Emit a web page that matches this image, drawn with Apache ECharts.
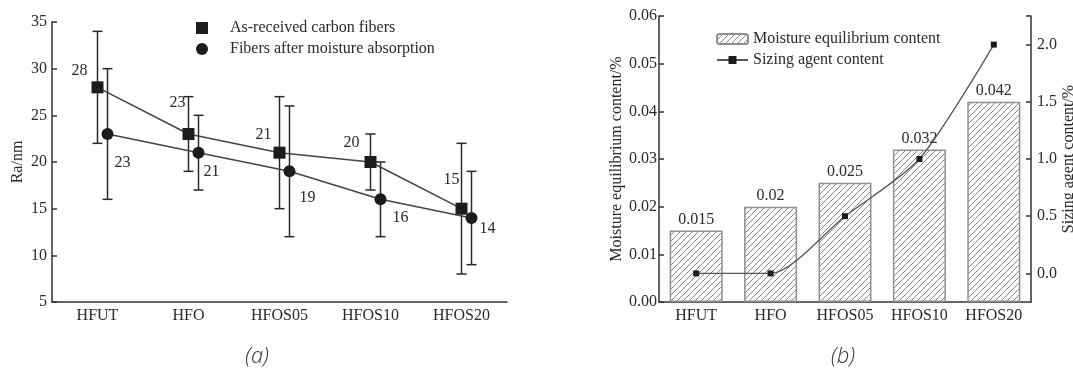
<!DOCTYPE html>
<html>
<head>
<meta charset="utf-8">
<script src="https://cdn.jsdelivr.net/npm/echarts@6/dist/echarts.min.js"></script>
<style>
html,body{margin:0;padding:0;background:#fff;}
#main{width:1073px;height:373px;}
</style>
</head>
<body>
<div id="main"></div>
<script>
// ---- data ----
const categories = ['HFUT', 'HFO', 'HFOS05', 'HFOS10', 'HFOS20'];
// (a) surface roughness Ra/nm
const raAsReceived = [28, 23, 21, 20, 15];
const raAsReceivedLow = [22, 19, 15, 17, 8];
const raAsReceivedHigh = [34, 27, 27, 23, 22];
const raMoist = [23, 21, 19, 16, 14];
const raMoistLow = [16, 17, 12, 12, 9];
const raMoistHigh = [30, 25, 26, 20, 19];
// (b)
const moistureContent = [0.015, 0.02, 0.025, 0.032, 0.042];
const sizingContent = [0.0, 0.0, 0.5, 1.0, 2.0];
const sizingTicks = [0, 0.5, 1.0, 1.5, 2.0];

const nameA1 = 'As-received carbon fibers';
const nameA2 = 'Fibers after moisture absorption';
const nameB1 = 'Moisture equilibrium content';
const nameB2 = 'Sizing agent content';

// ---- styling ----
const SERIF = '"Liberation Serif", "Times New Roman", serif';
const TXT = '#2a2a2a';
const AX = '#333';
const sqLabelOffset = [[-18, -17], [-11, -31], [-16, -18], [-19, -19], [-10, -29]];
const ciLabelOffset = [[15, 29], [13, 19], [18, 26], [20, 18], [16, 11]];

// hatch pattern
const pc = document.createElement('canvas');
pc.width = 6; pc.height = 6;
const g = pc.getContext('2d');
g.fillStyle = '#fff'; g.fillRect(0, 0, 6, 6);
g.strokeStyle = '#8a8a8a'; g.lineWidth = 1;
g.beginPath();
g.moveTo(0, 6); g.lineTo(6, 0);
g.moveTo(-1, 1); g.lineTo(1, -1);
g.moveTo(5, 7); g.lineTo(7, 5);
g.stroke();

function errRender(params, api) {
  const i = api.value(0);
  const lo = api.coord([i, api.value(1)]);
  const hi = api.coord([i, api.value(2)]);
  const cw = 5;
  const st = { stroke: '#2a2a2a', lineWidth: 1.5 };
  return {
    type: 'group',
    children: [
      { type: 'line', shape: { x1: lo[0], y1: lo[1], x2: hi[0], y2: hi[1] }, style: st },
      { type: 'line', shape: { x1: lo[0] - cw, y1: lo[1], x2: lo[0] + cw, y2: lo[1] }, style: st },
      { type: 'line', shape: { x1: hi[0] - cw, y1: hi[1], x2: hi[0] + cw, y2: hi[1] }, style: st }
    ]
  };
}

const axisLabelStyle = { fontFamily: SERIF, fontSize: 16, color: TXT };

function labeled(vals, offs) {
  return vals.map((v, i) => ({ value: v, label: { offset: offs[i] } }));
}

const gridA = { left: 52, right: 1073 - 507, top: 22, bottom: 71, outerBoundsMode: 'none', containLabel: false };
const gridA2 = { left: 62, right: 1073 - 517, top: 22, bottom: 71, outerBoundsMode: 'none', containLabel: false };
const gridB = { left: 659, right: 1073 - 1031, top: 16, bottom: 71, outerBoundsMode: 'none', containLabel: false };

const option = {
  animation: false,
  backgroundColor: '#fff',
  grid: [gridA, gridA2, gridB],
  legend: [
    {
      orient: 'vertical', left: 191, top: 15, itemGap: 5,
      itemWidth: 12, itemHeight: 12,
      textStyle: { fontFamily: SERIF, fontSize: 16, color: TXT, padding: [0, 0, 0, 17] },
      data: [{ name: nameA1, icon: 'rect' }, { name: nameA2, icon: 'circle' }]
    },
    {
      orient: 'vertical', left: 711, top: 26, itemGap: 5,
      itemWidth: 31, itemHeight: 10,
      textStyle: { fontFamily: SERIF, fontSize: 16, color: TXT },
      data: [nameB1, nameB2]
    }
  ],
  xAxis: [
    {
      type: 'category', gridIndex: 0, data: categories,
      axisLine: { lineStyle: { color: AX, width: 1.5 } },
      axisTick: { inside: true, alignWithLabel: true, length: 8, lineStyle: { color: AX, width: 1.5 } },
      axisLabel: Object.assign({ margin: 6, interval: 0 }, axisLabelStyle)
    },
    {
      type: 'category', gridIndex: 1, data: categories, show: false
    },
    {
      type: 'category', gridIndex: 2, data: categories,
      axisLine: { lineStyle: { color: AX, width: 1.5 } },
      axisTick: { show: false },
      axisLabel: Object.assign({ margin: 6, interval: 0, hideOverlap: false }, axisLabelStyle)
    }
  ],
  yAxis: [
    {
      type: 'value', gridIndex: 0, min: 5, max: 35, interval: 5,
      name: 'Ra/nm', nameLocation: 'middle', nameGap: 26, nameRotate: 90,
      nameTextStyle: { fontFamily: SERIF, fontSize: 16, color: TXT },
      splitLine: { show: false },
      axisLine: { show: true, lineStyle: { color: AX, width: 1.5 } },
      axisTick: { show: true, inside: true, length: 5, lineStyle: { color: AX, width: 1.5 } },
      axisLabel: Object.assign({ margin: 5 }, axisLabelStyle)
    },
    {
      type: 'value', gridIndex: 1, min: 5, max: 35, interval: 5, show: false
    },
    {
      type: 'value', gridIndex: 2, min: 0, max: 0.06, interval: 0.01,
      name: 'Moisture equilibrium content/%', nameLocation: 'middle', nameGap: 34, nameRotate: 90,
      nameTextStyle: { fontFamily: SERIF, fontSize: 16, color: TXT },
      splitLine: { show: false },
      axisLine: { show: true, lineStyle: { color: AX, width: 1.5 } },
      axisTick: { show: true, inside: true, length: 5, lineStyle: { color: AX, width: 1.5 } },
      axisLabel: Object.assign({ margin: 2, formatter: v => v.toFixed(2) }, axisLabelStyle)
    },
    {
      type: 'value', gridIndex: 2, position: 'right', min: -0.25, max: 2.25,
      name: 'Sizing agent content/%', nameLocation: 'middle', nameGap: 24, nameRotate: 90,
      nameTextStyle: { fontFamily: SERIF, fontSize: 16, color: TXT },
      splitLine: { show: false },
      axisLine: { show: true, lineStyle: { color: AX, width: 1.5 } },
      axisTick: { show: true, inside: true, length: 5, customValues: sizingTicks.concat([2.25]), lineStyle: { color: AX, width: 1.5 } },
      axisLabel: Object.assign({ margin: 6, customValues: sizingTicks, formatter: v => Number(v).toFixed(1) }, axisLabelStyle)
    }
  ],
  series: [
    {
      name: nameA1, type: 'line', xAxisIndex: 0, yAxisIndex: 0,
      data: labeled(raAsReceived, sqLabelOffset),
      symbol: 'rect', symbolSize: 12,
      itemStyle: { color: '#1c1c1c' },
      lineStyle: { color: '#444', width: 1.5 },
      label: { show: true, position: 'inside', fontFamily: SERIF, fontSize: 16, color: TXT },
      z: 3
    },
    {
      name: nameA1 + '_err', type: 'custom', xAxisIndex: 0, yAxisIndex: 0,
      data: categories.map((c, i) => [i, raAsReceivedLow[i], raAsReceivedHigh[i]]),
      renderItem: errRender, z: 2, silent: true
    },
    {
      name: nameA2, type: 'line', xAxisIndex: 1, yAxisIndex: 1,
      data: labeled(raMoist, ciLabelOffset),
      symbol: 'circle', symbolSize: 12,
      itemStyle: { color: '#1c1c1c' },
      lineStyle: { color: '#444', width: 1.5 },
      label: { show: true, position: 'inside', fontFamily: SERIF, fontSize: 16, color: TXT },
      z: 3
    },
    {
      name: nameA2 + '_err', type: 'custom', xAxisIndex: 1, yAxisIndex: 1,
      data: categories.map((c, i) => [i, raMoistLow[i], raMoistHigh[i]]),
      renderItem: errRender, z: 2, silent: true
    },
    {
      name: nameB1, type: 'bar', xAxisIndex: 2, yAxisIndex: 2,
      data: moistureContent, barWidth: 53,
      itemStyle: { color: { image: pc, repetition: 'repeat' }, borderColor: '#8f8f8f', borderWidth: 1.5 },
      label: { show: true, position: 'top', distance: 3, fontFamily: SERIF, fontSize: 16, color: TXT, formatter: p => String(p.value) }
    },
    {
      name: nameB2, type: 'line', xAxisIndex: 2, yAxisIndex: 3,
      data: sizingContent, smooth: 0.25,
      symbol: 'rect', symbolSize: 6,
      itemStyle: { color: '#1c1c1c' },
      lineStyle: { color: '#555', width: 1.3 },
      z: 4
    }
  ],
  graphic: [
    { type: 'text', x: 257, y: 357, style: { text: '(a)', fill: '#333', font: 'italic 300 22px "Open Sans"', textAlign: 'center', textVerticalAlign: 'middle' } },
    { type: 'text', x: 843, y: 357, style: { text: '(b)', fill: '#333', font: 'italic 300 22px "Open Sans"', textAlign: 'center', textVerticalAlign: 'middle' } }
  ]
};

const chart = echarts.init(document.getElementById('main'), null, { renderer: 'canvas' });
chart.setOption(option);
</script>
</body>
</html>
